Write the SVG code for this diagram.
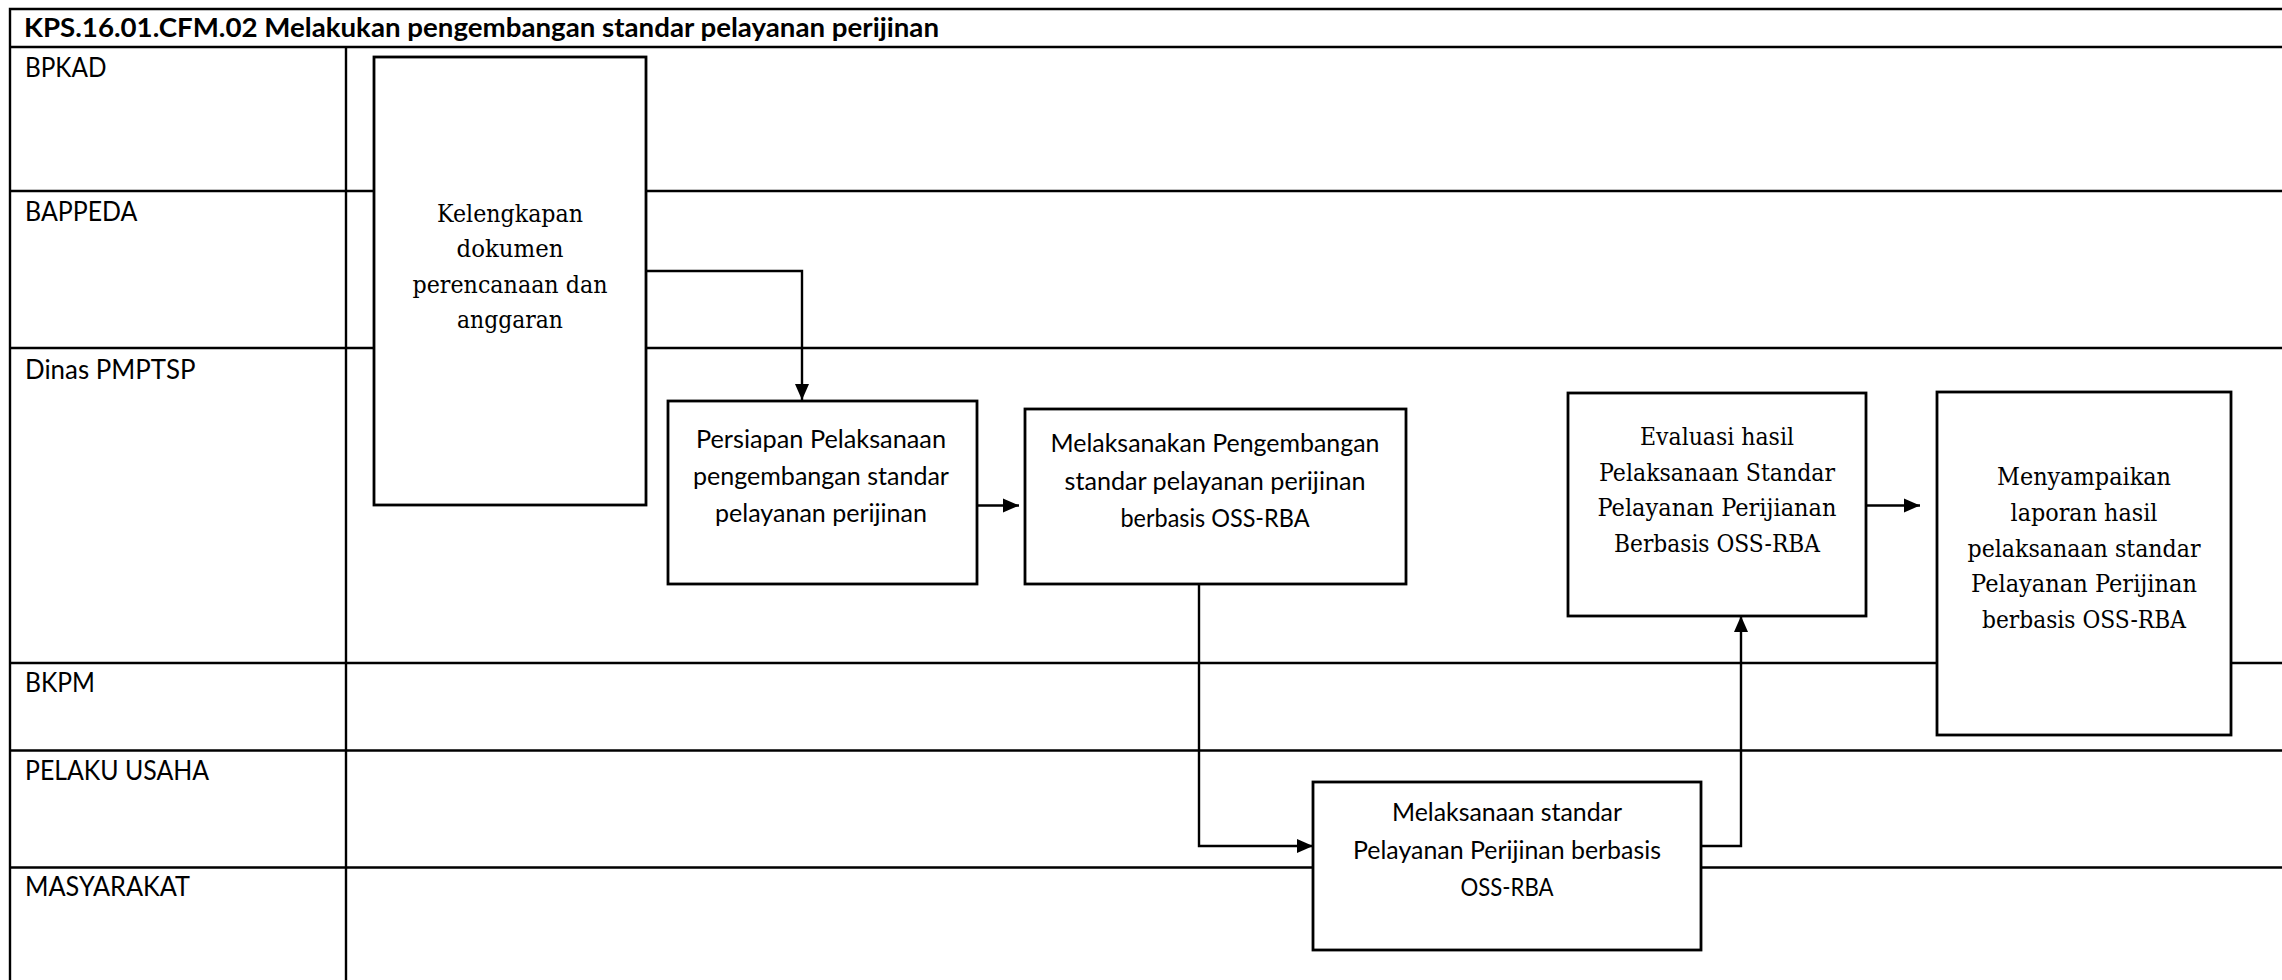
<svg xmlns="http://www.w3.org/2000/svg" width="2282" height="980" viewBox="0 0 2282 980">
<style>
.frame{stroke:#000;stroke-width:2.4;fill:none}
.box{fill:#fff;stroke:#000;stroke-width:2.8}
.conn{stroke:#000;stroke-width:2.4;fill:none}
.title{font-family:Lato,"Open Sans","Liberation Sans",sans-serif;font-weight:bold;font-size:26px;fill:#000}
.lbl{font-family:Lato,"Open Sans","Liberation Sans",sans-serif;font-size:26px;fill:#000}
.sans{font-family:Lato,"Open Sans","Liberation Sans",sans-serif;font-size:25px;fill:#000;text-anchor:middle}
.serif{font-family:"DejaVu Serif","Liberation Serif",serif;font-size:24px;fill:#000;text-anchor:middle}
</style>
<defs>
<marker id="arr" markerUnits="userSpaceOnUse" markerWidth="17" markerHeight="15" refX="16" refY="7.5" orient="auto">
<path d="M0,0.5 L16,7.5 L0,14.5 z" fill="#000"/>
</marker>
</defs>
<rect x="0" y="0" width="2282" height="980" fill="#fff"/>
<g id="swimlanes">
<path class="frame" d="M10,990 V9 H2290"/>
<path class="frame" d="M10,47 H2290 M10,191 H2290 M10,348 H2290 M10,663 H2290 M10,750.5 H2290 M10,867.5 H2290"/>
<path class="frame" d="M346,47 V990"/>
<text class="title" x="24" y="37" textLength="915" lengthAdjust="spacingAndGlyphs">KPS.16.01.CFM.02 Melakukan pengembangan standar pelayanan perijinan</text>
<text class="lbl" x="25" y="77" textLength="81.5" lengthAdjust="spacingAndGlyphs">BPKAD</text>
<text class="lbl" x="25" y="221" textLength="112.5" lengthAdjust="spacingAndGlyphs">BAPPEDA</text>
<text class="lbl" x="25" y="379" textLength="170.5" lengthAdjust="spacingAndGlyphs">Dinas PMPTSP</text>
<text class="lbl" x="25" y="692" textLength="70" lengthAdjust="spacingAndGlyphs">BKPM</text>
<text class="lbl" x="25" y="780" textLength="184" lengthAdjust="spacingAndGlyphs">PELAKU USAHA</text>
<text class="lbl" x="25" y="896" textLength="165" lengthAdjust="spacingAndGlyphs">MASYARAKAT</text>
</g>
<g id="connectors">
<path class="conn" d="M646,271 H802 V400" marker-end="url(#arr)"/>
<path class="conn" d="M977,505.5 H1019" marker-end="url(#arr)"/>
<path class="conn" d="M1199,584 V846 H1313" marker-end="url(#arr)"/>
<path class="conn" d="M1700,846 H1741 V616" marker-end="url(#arr)"/>
<path class="conn" d="M1866,505.5 H1920" marker-end="url(#arr)"/>
</g>
<g id="n1">
<rect class="box" x="374" y="57" width="272" height="448"/>
<text class="serif" x="510" y="221.5" textLength="146" lengthAdjust="spacingAndGlyphs">Kelengkapan</text>
<text class="serif" x="510" y="257" textLength="107" lengthAdjust="spacingAndGlyphs">dokumen</text>
<text class="serif" x="510" y="292.5" textLength="195" lengthAdjust="spacingAndGlyphs">perencanaan dan</text>
<text class="serif" x="510" y="328" textLength="106" lengthAdjust="spacingAndGlyphs">anggaran</text>
</g>
<g id="n2">
<rect class="box" x="668" y="401" width="309" height="183"/>
<text class="sans" x="821" y="448" textLength="250" lengthAdjust="spacingAndGlyphs">Persiapan Pelaksanaan</text>
<text class="sans" x="821" y="485" textLength="256" lengthAdjust="spacingAndGlyphs">pengembangan standar</text>
<text class="sans" x="821" y="522" textLength="212" lengthAdjust="spacingAndGlyphs">pelayanan perijinan</text>
</g>
<g id="n3">
<rect class="box" x="1025" y="409" width="381" height="175"/>
<text class="sans" x="1215" y="452" textLength="329" lengthAdjust="spacingAndGlyphs">Melaksanakan Pengembangan</text>
<text class="sans" x="1215" y="489.5" textLength="301" lengthAdjust="spacingAndGlyphs">standar pelayanan perijinan</text>
<text class="sans" x="1215" y="527" textLength="189" lengthAdjust="spacingAndGlyphs">berbasis OSS-RBA</text>
</g>
<g id="n4">
<rect class="box" x="1313" y="782" width="388" height="168"/>
<text class="sans" x="1507" y="821" textLength="230" lengthAdjust="spacingAndGlyphs">Melaksanaan standar</text>
<text class="sans" x="1507" y="858.5" textLength="308" lengthAdjust="spacingAndGlyphs">Pelayanan Perijinan berbasis</text>
<text class="sans" x="1507" y="896" textLength="93" lengthAdjust="spacingAndGlyphs">OSS-RBA</text>
</g>
<g id="n5">
<rect class="box" x="1568" y="393" width="298" height="223"/>
<text class="serif" x="1717" y="445" textLength="154" lengthAdjust="spacingAndGlyphs">Evaluasi hasil</text>
<text class="serif" x="1717" y="480.5" textLength="236" lengthAdjust="spacingAndGlyphs">Pelaksanaan Standar</text>
<text class="serif" x="1717" y="516" textLength="239" lengthAdjust="spacingAndGlyphs">Pelayanan Perijianan</text>
<text class="serif" x="1717" y="551.5" textLength="206" lengthAdjust="spacingAndGlyphs">Berbasis OSS-RBA</text>
</g>
<g id="n6">
<rect class="box" x="1937" y="392" width="294" height="343"/>
<text class="serif" x="2084" y="485" textLength="174" lengthAdjust="spacingAndGlyphs">Menyampaikan</text>
<text class="serif" x="2084" y="520.8" textLength="147" lengthAdjust="spacingAndGlyphs">laporan hasil</text>
<text class="serif" x="2084" y="556.6" textLength="233" lengthAdjust="spacingAndGlyphs">pelaksanaan standar</text>
<text class="serif" x="2084" y="592.4" textLength="226" lengthAdjust="spacingAndGlyphs">Pelayanan Perijinan</text>
<text class="serif" x="2084" y="628.2" textLength="204" lengthAdjust="spacingAndGlyphs">berbasis OSS-RBA</text>
</g>
</svg>
